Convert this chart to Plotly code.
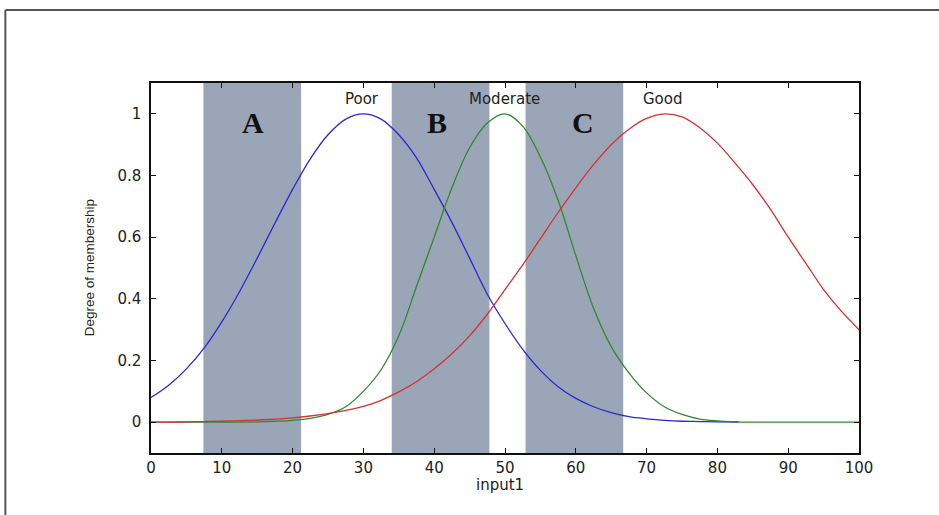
import plotly.graph_objects as go

# ---- data ----
x_vals = [0, 2.5, 5, 7.5, 10, 12.5, 15, 17.5, 20, 22.5, 25, 27.5, 30, 32.5, 35, 37.5, 40,
          42.5, 45, 47.5, 50, 52.5, 55, 57.5, 60, 62.5, 65, 67.5, 70, 72.5, 75, 77.5, 80,
          82.5, 85, 87.5, 90, 92.5, 95, 97.5, 100]

poor = [0.08, 0.12, 0.173, 0.24, 0.325, 0.423, 0.532, 0.645, 0.755, 0.854, 0.932, 0.983, 1.00,
        0.983, 0.932, 0.857, 0.755, 0.648, 0.532, 0.415, 0.32, 0.236, 0.168, 0.115, 0.077, 0.05,
        0.031, 0.018, 0.011, 0.006, 0.003, 0.002, 0.001, 0.0005]
poor_x = x_vals[:len(poor) - 1] + [83]

moderate = [0, 0, 0, 0, 0, 0, 0.001, 0.003, 0.006, 0.012, 0.025, 0.05, 0.10, 0.17, 0.28,
            0.44, 0.60, 0.76, 0.89, 0.97, 1.00, 0.96, 0.86, 0.72, 0.54, 0.37, 0.245, 0.16,
            0.095, 0.05, 0.025, 0.01, 0.004, 0.001, 0, 0, 0, 0, 0, 0, 0]

good = [0, 0, 0.001, 0.002, 0.003, 0.005, 0.007, 0.01, 0.014, 0.02, 0.028, 0.038, 0.051,
        0.071, 0.098, 0.131, 0.173, 0.222, 0.28, 0.35, 0.43, 0.51, 0.595, 0.68, 0.76, 0.835,
        0.90, 0.95, 0.985, 1.00, 0.99, 0.955, 0.905, 0.84, 0.77, 0.69, 0.60, 0.515, 0.43,
        0.36, 0.30]

mf_names = ["Poor", "Moderate", "Good"]
mf_label_x = [29.8, 49.9, 72.3]
mf_label_y = 1.047

regions = ["A", "B", "C"]
region_x0 = [7.4, 34.0, 52.9]
region_x1 = [21.2, 47.8, 66.7]
region_label_x = [14.4, 40.4, 61.0]
region_label_y = 0.972

x_ticks = list(range(0, 101, 10))
y_ticks = [0, 0.2, 0.4, 0.6, 0.8, 1]

# ---- figure ----
fig = go.Figure()

line_kw = dict(width=1.3, shape="spline", smoothing=1.0)
fig.add_trace(go.Scatter(x=poor_x, y=poor, mode="lines", name="Poor",
                         line=dict(color="#2a2ad2", **line_kw)))
fig.add_trace(go.Scatter(x=x_vals, y=moderate, mode="lines", name="Moderate",
                         line=dict(color="#2e8a2e", **line_kw)))
fig.add_trace(go.Scatter(x=x_vals, y=good, mode="lines", name="Good",
                         line=dict(color="#d83030", **line_kw)))

shapes = []
for x0, x1 in zip(region_x0, region_x1):
    shapes.append(dict(type="rect", xref="x", yref="y domain", x0=x0, x1=x1, y0=0, y1=1,
                       fillcolor="#9aa6b7", line=dict(width=0), layer="below"))
# outer frame
shapes.append(dict(type="line", xref="paper", yref="paper", x0=-0.2057, x1=1.2,
                   y0=1.197, y1=1.197, line=dict(color="#555555", width=2)))
shapes.append(dict(type="line", xref="paper", yref="paper", x0=-0.2057, x1=-0.2057,
                   y0=1.197, y1=-0.2, line=dict(color="#555555", width=2)))

annotations = []
for name, xx in zip(mf_names, mf_label_x):
    annotations.append(dict(x=xx, y=mf_label_y, xref="x", yref="y", text=name, showarrow=False,
                            font=dict(family="DejaVu Sans", size=15, color="#222222"),
                            xanchor="center", yanchor="middle"))
for lab, xx in zip(regions, region_label_x):
    annotations.append(dict(x=xx, y=region_label_y, xref="x", yref="y", text="<b>" + lab + "</b>",
                            showarrow=False,
                            font=dict(family="Liberation Serif", size=30, color="#111111"),
                            xanchor="center", yanchor="middle"))
annotations.append(dict(x=0.4935, y=-0.0865, xref="paper", yref="paper", text="input1",
                        showarrow=False, font=dict(family="DejaVu Sans", size=15, color="#222222"),
                        xanchor="center", yanchor="middle"))
annotations.append(dict(x=-0.0871, y=0.5, xref="paper", yref="paper", text="Degree of membership",
                        showarrow=False, textangle=-90,
                        font=dict(family="Liberation Sans", size=13.5, color="#222222"),
                        xanchor="center", yanchor="middle"))

fig.update_layout(
    width=939, height=515,
    margin=dict(l=151, r=80, t=83, b=62, pad=0),
    paper_bgcolor="white", plot_bgcolor="white",
    showlegend=False,
    shapes=shapes, annotations=annotations,
    xaxis=dict(range=[0, 100], tickvals=x_ticks, showgrid=False, zeroline=False,
               showline=True, linecolor="#111111", linewidth=1.5, mirror="ticks",
               ticks="inside", ticklen=5, tickwidth=1.2, tickcolor="#111111",
               ticklabelstandoff=0,
               tickfont=dict(family="DejaVu Sans", size=15, color="#222222")),
    yaxis=dict(range=[-0.1, 1.1], tickvals=y_ticks, showgrid=False, zeroline=False,
               showline=True, linecolor="#111111", linewidth=1.5, mirror="ticks",
               ticks="inside", ticklen=5, tickwidth=1.2, tickcolor="#111111",
               ticklabelstandoff=5,
               tickfont=dict(family="DejaVu Sans", size=15, color="#222222")),
)

fig.write_html("out.html", config={"displayModeBar": False},
               post_script="document.body.style.margin='0';")
